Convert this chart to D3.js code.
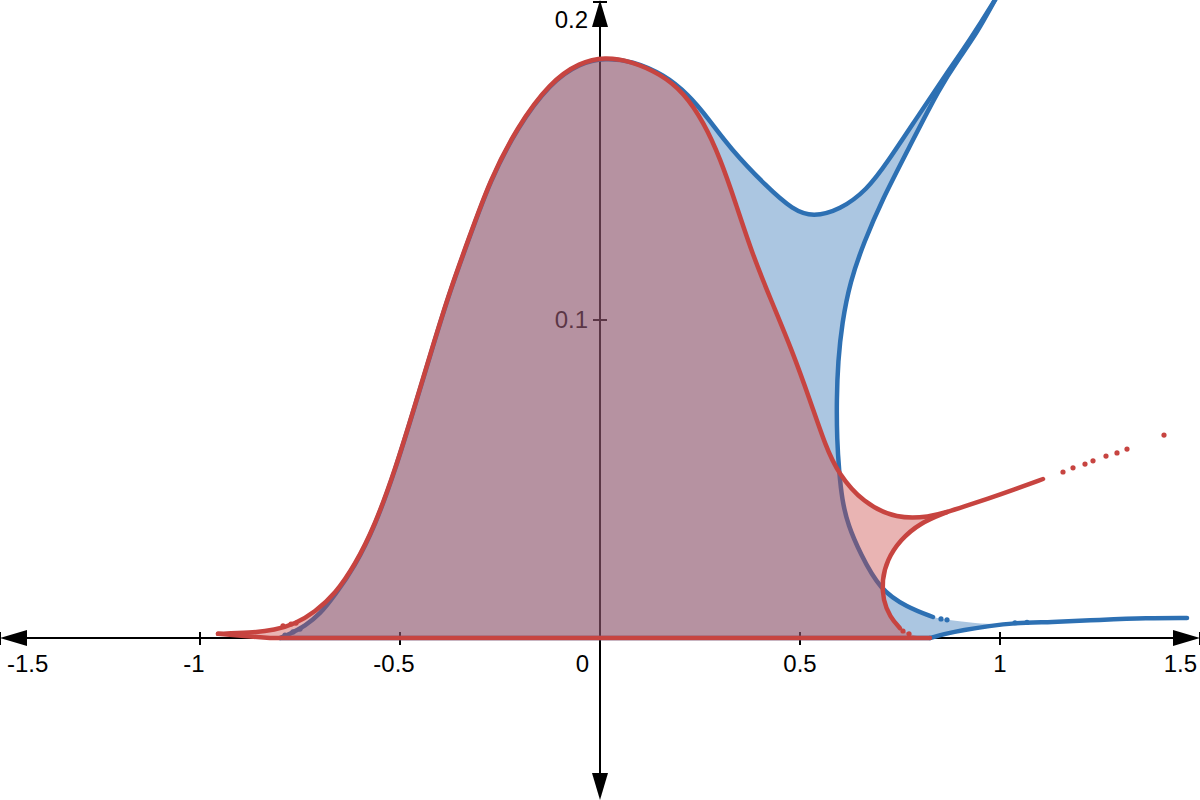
<!DOCTYPE html>
<html>
<head>
<meta charset="utf-8">
<script src="https://cdn.jsdelivr.net/npm/d3@7"></script>
<style>
  body { margin: 0; background: #fff; }
  svg { display: block; }
  text { font-family: "Liberation Sans", Arial, sans-serif; font-size: 24px; fill: #000; }
</style>
</head>
<body>
<div id="chart"></div>
<script>
'use strict';

// tick values and labels
let xTicks = [-1.5, -1, -0.5, 0, 0.5, 1, 1.5];
let xTickLabels = ['-1.5', '-1', '-0.5', '0', '0.5', '1', '1.5'];
let yTicks = [0.1, 0.2];
let yTickLabels = ['0.1', '0.2'];

// red curve: upper branch (left tail -> junction), extension, lower branch
let redUpper = [[-0.955,0.0013],[-0.875,0.0016],[-0.8125,0.0025],[-0.7625,0.0044],[-0.7125,0.0082],
  [-0.6625,0.0138],[-0.6125,0.0230],[-0.5625,0.0355],[-0.5125,0.0528],[-0.4625,0.0733],[-0.4175,0.0921],
  [-0.375,0.1094],[-0.325,0.1267],[-0.275,0.1440],[-0.2075,0.1607],[-0.125,0.1748],[-0.05,0.1811],
  [0.0125,0.1827],[0.075,0.1815],[0.15,0.1775],[0.21,0.1715],[0.26,0.1620],[0.30,0.1510],
  [0.34,0.1365],[0.38,0.1210],[0.43,0.1055],[0.48,0.0905],[0.525,0.0748],[0.565,0.0600],
  [0.595,0.0519],[0.6575,0.0425],[0.7425,0.0374],[0.825,0.0381],[0.8675,0.0396]];
let redUpperExt = [[0.8675,0.0396],[0.9075,0.0412],[0.97,0.0438],[1.0325,0.0465],[1.1075,0.0500]];
let redLower = [[0.8675,0.0396],[0.80,0.0362],[0.75,0.0308],[0.7175,0.0245],[0.705,0.0182],
  [0.7075,0.0119],[0.725,0.0066],[0.75,0.0031]];
let redLowerEnd = [[0.75,0.0031],[0.78,0.0006],[0.825,0]];
let redBase = [[0.825,0],[-0.825,0],[-0.955,0.0013]];
let redDots = [[-0.7925,0.0038],[-0.7725,0.0044],[-0.76,0.0047],[0.7575,0.0022],[0.7725,0.0013],
  [1.1575,0.0522],[1.1825,0.0535],[1.2125,0.0547],[1.2325,0.0557],[1.265,0.0572],[1.2925,0.0582],
  [1.3175,0.0594],[1.41,0.0638]];

// blue curve: upper branch, right branch coming back down, lower branch near axis
let blueUpper = [[-0.80,0],[-0.775,0.0013],[-0.7375,0.0038],[-0.70,0.0075],[-0.6625,0.0135],
  [-0.6125,0.0226],[-0.5625,0.0352],[-0.5125,0.0525],[-0.4625,0.0730],[-0.4175,0.0918],[-0.375,0.1091],
  [-0.325,0.1264],[-0.275,0.1437],[-0.2075,0.1604],[-0.125,0.1745],[-0.05,0.1808],[0.0125,0.1824],
  [0.08,0.1815],[0.16,0.1772],[0.22,0.1710],[0.27,0.1635],[0.325,0.1540],[0.4175,0.1418],
  [0.4825,0.1346],[0.5325,0.1324],[0.60,0.1346],[0.6675,0.1409],[0.7175,0.1494],[0.80,0.1651],
  [0.8675,0.1777],[0.925,0.1881],[0.9875,0.2006],[1.0,0.2035]];
let blueRight = [[1.0,0.2035],[0.9875,0.2006],[0.9425,0.1903],[0.90,0.1827],[0.85,0.1733],[0.77,0.1535],
  [0.705,0.1377],[0.66,0.1245],[0.625,0.1120],[0.605,0.0990],[0.595,0.0870],[0.5915,0.0748],
  [0.5925,0.0623],[0.5975,0.0528],[0.605,0.0434],[0.62,0.0355],[0.65,0.0267],[0.70,0.0151],
  [0.7675,0.0097],[0.8325,0.0066]];
let blueFillTail = [[0.8325,0.0066],[0.8675,0.0057],[0.94,0.0046],[1.0,0.0043],[1.05,0.0048]];
let blueLower = [[0.825,0],[0.8625,0.0013],[0.9075,0.0025],[0.975,0.0038],[1.0325,0.0047],
  [1.125,0.0050],[1.25,0.0057],[1.3675,0.0063],[1.4675,0.0063]];
let blueBase = [[0.825,0],[-0.80,0]];
let blueDots = [[-0.7875,0.0009],[-0.7675,0.0019],[-0.75,0.0028],[0.8525,0.0060],[0.8675,0.0057],
  [1.0375,0.0048],[1.0675,0.0049]];

let width = 1200, height = 800;
let blue = '#2d70b3', red = '#c74440';

let svg = d3.select('#chart').append('svg')
    .attr('width', width)
    .attr('height', height);

let x = d3.scaleLinear().domain([-1.5, 1.5]).range([0, width]);
let y = d3.scaleLinear().domain([0, 0.1]).range([638, 320]);

let smooth = d3.line().x(d => x(d[0])).y(d => y(d[1])).curve(d3.curveBasis);
let straight = d3.line().x(d => x(d[0])).y(d => y(d[1]));

// glue several path pieces into one closed outline
function outline(parts) {
  return parts.map((p, i) => {
    let d = p[1](p[0]);
    return i ? d.replace(/^M/, 'L') : d;
  }).join('') + 'Z';
}

//axes
let axes = svg.append('g');
let x0 = x(0), y0 = y(0);

axes.append('line')
    .attr('x1', 20).attr('x2', width - 20)
    .attr('y1', y0).attr('y2', y0)
    .attr('stroke', '#000').attr('stroke-width', 2);
axes.append('line')
    .attr('x1', x0).attr('x2', x0)
    .attr('y1', 20).attr('y2', height - 20)
    .attr('stroke', '#000').attr('stroke-width', 2);

let arrows = [
  [[0, y0], [27, y0 - 8], [27, y0 + 8]],
  [[width, y0], [width - 27, y0 - 8], [width - 27, y0 + 8]],
  [[x0, 0], [x0 - 8, 27], [x0 + 8, 27]],
  [[x0, height], [x0 - 8, height - 27], [x0 + 8, height - 27]]
];
axes.selectAll('path.arrow').data(arrows).enter().append('path')
    .attr('class', 'arrow')
    .attr('d', d => 'M' + d.join('L') + 'Z')
    .attr('fill', '#000');

axes.selectAll('line.xtick').data(xTicks.filter(d => d !== 0)).enter().append('line')
    .attr('class', 'xtick')
    .attr('x1', d => x(d)).attr('x2', d => x(d))
    .attr('y1', y0 - 6).attr('y2', y0 + 7)
    .attr('stroke', '#000').attr('stroke-width', 2);

axes.selectAll('line.ytick').data(yTicks).enter().append('line')
    .attr('class', 'ytick')
    .attr('x1', x0 - 7).attr('x2', x0 + 7)
    .attr('y1', d => y(d)).attr('y2', d => y(d))
    .attr('stroke', '#000').attr('stroke-width', 2);

axes.selectAll('text.xlab').data(xTicks).enter().append('text')
    .attr('class', 'xlab')
    .attr('x', (d, i) => {
      if (i === 0) return 7;
      if (i === xTicks.length - 1) return width - 3;
      if (d === 0) return x0 - 11;
      return x(d) - (d < 0 ? 6 : 0);
    })
    .attr('y', 672)
    .attr('text-anchor', (d, i) => i === 0 ? 'start' : (i === xTicks.length - 1 || d === 0) ? 'end' : 'middle')
    .text((d, i) => xTickLabels[i]);

// labels near the top edge get pushed down so they stay readable
axes.selectAll('text.ylab').data(yTicks).enter().append('text')
    .attr('class', 'ylab')
    .attr('x', x0 - 12)
    .attr('y', d => Math.max(y(d) + 8, 28))
    .attr('text-anchor', 'end')
    .text((d, i) => yTickLabels[i]);

//blue region
svg.append('path')
    .attr('d', outline([[blueUpper, smooth], [blueRight, smooth], [blueFillTail, smooth],
      [blueLower.filter(d => d[0] <= 1.05).reverse(), smooth], [blueBase, straight]]))
    .attr('fill', blue).attr('fill-opacity', 0.4);

let blueStroke = svg.append('g')
    .attr('fill', 'none').attr('stroke', blue)
    .attr('stroke-width', 4.5).attr('stroke-linecap', 'round').attr('stroke-linejoin', 'round');
blueStroke.append('path').attr('d', smooth(blueUpper));
blueStroke.append('path').attr('d', smooth(blueRight));
blueStroke.append('path').attr('d', smooth(blueLower));
blueStroke.append('path').attr('d', straight(blueBase));

svg.selectAll('circle.bdot').data(blueDots).enter().append('circle')
    .attr('class', 'bdot')
    .attr('cx', d => x(d[0])).attr('cy', d => y(d[1]))
    .attr('r', 2.6).attr('fill', blue);

//red region
svg.append('path')
    .attr('d', outline([[redUpper, smooth], [redLower, smooth], [redLowerEnd, smooth], [redBase, straight]]))
    .attr('fill', red).attr('fill-opacity', 0.4);

let redStroke = svg.append('g')
    .attr('fill', 'none').attr('stroke', red)
    .attr('stroke-width', 4.5).attr('stroke-linecap', 'round').attr('stroke-linejoin', 'round');
redStroke.append('path').attr('d', smooth(redUpper.concat(redUpperExt.slice(1))));
redStroke.append('path').attr('d', smooth(redLower));
redStroke.append('path').attr('d', straight(redBase));

svg.selectAll('circle.rdot').data(redDots).enter().append('circle')
    .attr('class', 'rdot')
    .attr('cx', d => x(d[0])).attr('cy', d => y(d[1]))
    .attr('r', 2.6).attr('fill', red);
</script>
</body>
</html>
